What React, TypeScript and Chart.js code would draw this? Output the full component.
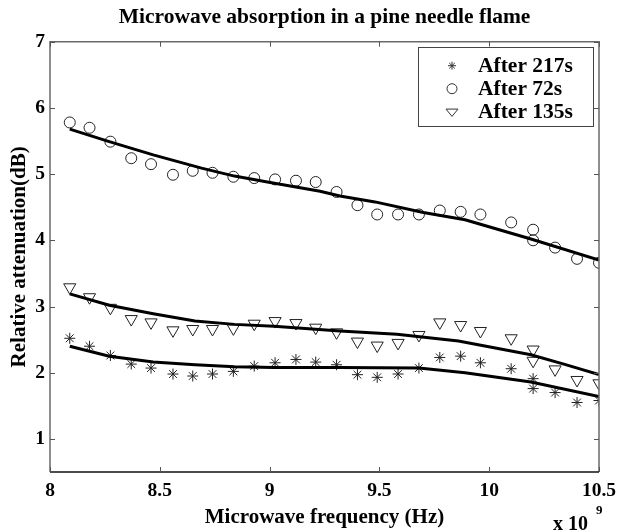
import React, { useEffect, useRef } from 'react';
import { Chart, registerables } from 'chart.js';

Chart.register(...registerables);

// Frequencies (x 10^9 Hz)
const freq = [8.09, 8.18, 8.275, 8.37, 8.46, 8.56, 8.65, 8.74, 8.835, 8.93, 9.025, 9.12, 9.21, 9.305, 9.4, 9.49, 9.585, 9.68, 9.775, 9.87, 9.96, 10.1, 10.2, 10.2, 10.3, 10.4, 10.5];

// Measured relative attenuation (dB)
const after217 = [2.52, 2.40, 2.26, 2.13, 2.07, 1.98, 1.95, 1.98, 2.02, 2.10, 2.15, 2.20, 2.16, 2.12, 1.97, 1.93, 1.98, 2.07, 2.23, 2.25, 2.15, 2.06, 1.91, 1.76, 1.70, 1.55, 1.58];
const after72 = [5.78, 5.70, 5.49, 5.24, 5.15, 4.99, 5.05, 5.02, 4.96, 4.94, 4.92, 4.90, 4.88, 4.73, 4.53, 4.39, 4.39, 4.39, 4.45, 4.43, 4.39, 4.27, 4.16, 4.00, 3.89, 3.72, 3.66];
const after135 = [3.29, 3.14, 2.98, 2.81, 2.76, 2.64, 2.66, 2.66, 2.67, 2.74, 2.78, 2.75, 2.68, 2.61, 2.47, 2.41, 2.45, 2.57, 2.76, 2.72, 2.63, 2.52, 2.35, 2.18, 2.05, 1.89, 1.84];

// Fitted curves
const fit72X = [8.09, 8.27, 8.47, 8.69, 8.84, 8.99, 9.23, 9.32, 9.48, 9.70, 9.89, 10.19, 10.5];
const fit72Y = [5.68, 5.49, 5.29, 5.09, 4.97, 4.88, 4.74, 4.67, 4.58, 4.42, 4.31, 4.02, 3.70];
const fit135X = [8.09, 8.27, 8.47, 8.66, 8.84, 9.02, 9.32, 9.58, 9.86, 10.19, 10.34, 10.5];
const fit135Y = [3.19, 3.02, 2.89, 2.78, 2.73, 2.70, 2.63, 2.58, 2.48, 2.27, 2.13, 1.97];
const fit217X = [8.09, 8.27, 8.47, 8.66, 8.84, 9.02, 9.32, 9.68, 9.89, 10.19, 10.5];
const fit217Y = [2.40, 2.25, 2.16, 2.12, 2.09, 2.08, 2.08, 2.07, 2.00, 1.86, 1.64];

const xTicks = [8, 8.5, 9, 9.5, 10, 10.5];
const yTicks = [1, 2, 3, 4, 5, 6, 7];

const legendLabels = ['After 217s', 'After 72s', 'After 135s'];
const chartTitle = 'Microwave absorption in a pine needle flame';

const FONT = '"Liberation Serif", "Times New Roman", serif';

const pts = (xs: number[], ys: number[]) => xs.map((x, i) => ({ x, y: ys[i] }));

function drawMarker(ctx: CanvasRenderingContext2D, kind: string, x: number, y: number, r: number) {
  ctx.beginPath();
  if (kind === 'star') {
    for (let a = 0; a < 4; a++) {
      const ang = (a * Math.PI) / 4;
      ctx.moveTo(x - Math.cos(ang) * r, y - Math.sin(ang) * r);
      ctx.lineTo(x + Math.cos(ang) * r, y + Math.sin(ang) * r);
    }
  } else if (kind === 'circle') {
    ctx.arc(x, y, r, 0, Math.PI * 2);
  } else {
    const h = r * 0.87;
    ctx.moveTo(x - r, y - h * 0.5);
    ctx.lineTo(x + r, y - h * 0.5);
    ctx.lineTo(x, y + h * 0.9);
    ctx.closePath();
  }
  ctx.stroke();
}

const overlay = {
  id: 'overlay',
  afterDraw(chart: any) {
    const { ctx, chartArea } = chart;
    const { left, right, top, bottom } = chartArea;
    const xs = chart.scales.x;
    const ys = chart.scales.y;
    ctx.save();
    // title, centred over the plot box
    ctx.fillStyle = '#000';
    ctx.font = 'bold 21.5px ' + FONT;
    ctx.textAlign = 'center';
    ctx.textBaseline = 'middle';
    ctx.fillText(chartTitle, (left + right) / 2, 17);

    // frame
    ctx.lineWidth = 1.5;
    ctx.strokeStyle = '#6a6a6a';
    ctx.beginPath();
    ctx.moveTo(left, bottom);
    ctx.lineTo(left, top);
    ctx.lineTo(right, top);
    ctx.lineTo(right, bottom);
    ctx.stroke();
    ctx.strokeStyle = '#111';
    ctx.beginPath();
    ctx.moveTo(left, bottom);
    ctx.lineTo(right, bottom);
    ctx.stroke();
    // inward ticks
    ctx.lineWidth = 1;
    ctx.strokeStyle = '#555';
    ctx.beginPath();
    xTicks.forEach((v) => {
      const px = Math.round(xs.getPixelForValue(v)) + 0.5;
      ctx.moveTo(px, bottom);
      ctx.lineTo(px, bottom - 5);
      ctx.moveTo(px, top);
      ctx.lineTo(px, top + 5);
    });
    yTicks.forEach((v) => {
      const py = Math.round(ys.getPixelForValue(v)) + 0.5;
      ctx.moveTo(left, py);
      ctx.lineTo(left + 5, py);
      ctx.moveTo(right, py);
      ctx.lineTo(right - 5, py);
    });
    ctx.stroke();

    // legend
    const bw = 175;
    const bh = 79;
    const bx = right - 6 - bw;
    const by = top + 5;
    ctx.fillStyle = '#fff';
    ctx.fillRect(bx, by, bw, bh);
    ctx.strokeStyle = '#444';
    ctx.lineWidth = 1;
    ctx.strokeRect(Math.round(bx) + 0.5, Math.round(by) + 0.5, bw, bh);
    const kinds = ['star', 'circle', 'triangle'];
    const rows = [by + 19, by + 42, by + 65];
    ctx.font = 'bold 21.5px ' + FONT;
    ctx.textBaseline = 'middle';
    ctx.textAlign = 'left';
    legendLabels.forEach((lab, i) => {
      ctx.strokeStyle = '#333';
      ctx.lineWidth = 1;
      drawMarker(ctx, kinds[i], bx + 34, rows[i], i === 0 ? 4 : i === 1 ? 5 : 6);
      ctx.fillStyle = '#000';
      ctx.fillText(lab, bx + 60, rows[i] + 1);
    });

    // exponent
    ctx.fillStyle = '#000';
    ctx.font = 'bold 20px ' + FONT;
    ctx.fillText('x 10', right - 46, 525);
    ctx.font = 'bold 13px ' + FONT;
    ctx.fillText('9', right - 3, 511);
    ctx.restore();
  },
};

export default function App() {
  const ref = useRef<HTMLCanvasElement | null>(null);
  useEffect(() => {
    if (!ref.current) return;
    const lineDs = (label: string, xs: number[], ys: number[]) => ({
      label,
      data: pts(xs, ys),
      showLine: true,
      borderColor: '#000',
      borderWidth: 3,
      pointRadius: 0,
      fill: false,
      tension: 0,
    });
    const markDs = (label: string, ys: number[], style: string, r: number, rot = 0) => ({
      label,
      data: pts(freq, ys),
      showLine: false,
      pointStyle: style,
      pointRadius: r,
      pointRotation: rot,
      pointBorderColor: '#222',
      pointBackgroundColor: 'rgba(0,0,0,0)',
      pointBorderWidth: 1,
      borderColor: '#222',
      backgroundColor: 'rgba(0,0,0,0)',
    });
    const chart = new Chart(ref.current, {
      type: 'scatter',
      data: {
        datasets: [
          lineDs('fit 217s', fit217X, fit217Y),
          lineDs('fit 72s', fit72X, fit72Y),
          lineDs('fit 135s', fit135X, fit135Y),
          markDs(legendLabels[0], after217, 'star', 5.5),
          markDs(legendLabels[1], after72, 'circle', 5.5),
          markDs(legendLabels[2], after135, 'triangle', 7, 180),
        ],
      } as any,
      options: {
        responsive: false,
        animation: false,
        devicePixelRatio: 1,
        layout: { padding: { left: 0, right: 25, top: 41.7, bottom: 0 } },
        plugins: {
          legend: { display: false },
          tooltip: { enabled: false },
          title: { display: false },
        },
        scales: {
          x: {
            type: 'linear',
            min: 8,
            max: 10.5,
            afterBuildTicks: (s: any) => {
              s.ticks = xTicks.map((v) => ({ value: v }));
            },
            afterFit: (s: any) => {
              s.height = 59;
            },
            grid: { display: false, drawTicks: false },
            border: { display: false },
            ticks: {
              color: '#000',
              padding: 7,
              maxRotation: 0,
              autoSkip: false,
              font: { family: FONT, size: 19.5, weight: 'bold' },
              callback: (v: any) => String(v),
            },
            title: {
              display: true,
              text: 'Microwave frequency (Hz)',
              color: '#000',
              font: { family: FONT, size: 21, weight: 'bold' },
              padding: { top: 0, bottom: 1 },
            },
          },
          y: {
            type: 'linear',
            min: 0.5,
            max: 7,
            afterBuildTicks: (s: any) => {
              s.ticks = yTicks.map((v) => ({ value: v }));
            },
            afterFit: (s: any) => {
              s.width = 50;
            },
            grid: { display: false, drawTicks: false },
            border: { display: false },
            ticks: {
              color: '#000',
              padding: 5,
              autoSkip: false,
              font: { family: FONT, size: 19.5, weight: 'bold' },
              callback: (v: any) => String(v),
            },
            title: {
              display: true,
              text: 'Relative attenuation(dB)',
              color: '#000',
              font: { family: FONT, size: 21, weight: 'bold' },
              padding: { top: 7, bottom: 0 },
            },
          },
        },
      } as any,
      plugins: [overlay],
    });
    return () => chart.destroy();
  }, []);
  return (
    <div style={{ position: 'absolute', left: 0, top: 0, width: 624, height: 531, background: '#fff' }}>
      <canvas ref={ref} width={624} height={531} style={{ display: 'block' }} />
    </div>
  );
}
